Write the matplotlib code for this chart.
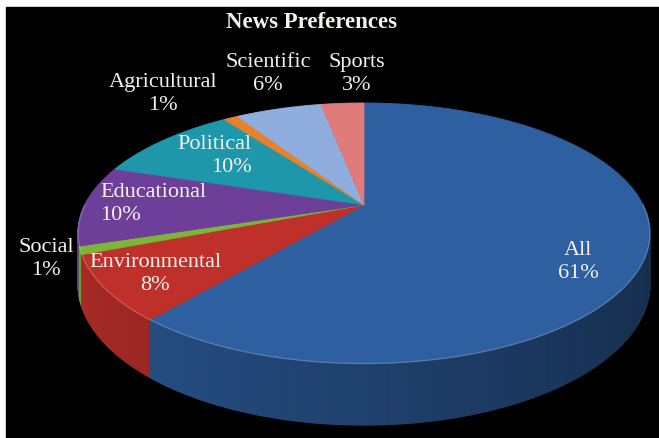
import numpy as np
import matplotlib
matplotlib.use('Agg')
import matplotlib.pyplot as plt
from matplotlib.patches import Polygon, Rectangle
from matplotlib.collections import PolyCollection
from matplotlib.colors import to_rgb

# data
categories = ['All', 'Environmental', 'Social', 'Educational',
              'Political', 'Agricultural', 'Scientific', 'Sports']
percent = [61, 8, 1, 10, 10, 1, 6, 3]
colors = ['#2E5FA0', '#C0302B', '#7DB43A', '#6E3F98',
          '#1F97AB', '#E8822A', '#8FAEDD', '#E07B7B']
title = 'News Preferences'

# label anchor points (pixels) and alignment - placed by hand like the original
label_pos = [(578, 262), (155, 274), (46, 259), (100, 204),
             (252, 156), (163, 94), (268, 74), (357, 74)]
label_ha = ['center', 'center', 'center', 'left',
            'right', 'center', 'center', 'center']

# pie geometry in pixels (perspective-ish 3d look)
cx, cy = 364, 206
a, b = 279, 124
k = 0.218
h = 48


def project(theta, z=0.0):
    x = np.cos(theta)
    d = np.sin(theta)
    s = 1.0 / (1.0 + k * d)
    return cx + a * x * s, cy - b * d * s + z * h * s


def shade(col, f):
    r, g, bb = to_rgb(col)
    return (r * f, g * f, bb * f)


fig = plt.figure(figsize=(6.59, 4.39), dpi=100)
fig.patch.set_facecolor('white')
ax = fig.add_axes([0, 0, 1, 1])
ax.set_xlim(0, 659)
ax.set_ylim(439, 0)
ax.axis('off')
ax.add_patch(Rectangle((6, 8), 660, 440, color='black', zorder=0))

# wedge edges, clockwise from 12 o'clock
frac = np.array(percent, dtype=float) / sum(percent)
edges = np.radians(90 - 360 * np.concatenate([[0], np.cumsum(frac)]))

# side of the cylinder, small quads drawn back to front
quads, qcols, depth = [], [], []
for i in range(len(percent)):
    n = max(4, int(abs(edges[i] - edges[i + 1]) / np.radians(0.5)))
    t = np.linspace(edges[i], edges[i + 1], n)
    for t0, t1 in zip(t[:-1], t[1:]):
        quads.append([project(t0, 0), project(t1, 0), project(t1, 1), project(t0, 1)])
        tm = 0.5 * (t0 + t1)
        qcols.append(shade(colors[i], 0.68 - 0.2 * np.cos(tm)))
        depth.append(np.sin(tm))
order = np.argsort(depth)[::-1]
pc = PolyCollection([quads[j] for j in order], facecolors=[qcols[j] for j in order],
                    edgecolors=[qcols[j] for j in order], linewidths=1.0, zorder=1)
ax.add_collection(pc)

# top faces
for i in range(len(percent)):
    t = np.linspace(edges[i], edges[i + 1], 200)
    xs, ys = project(t, 0)
    pts = np.column_stack([np.r_[cx, xs], np.r_[cy, ys]])
    ax.add_patch(Polygon(pts, closed=True, facecolor=colors[i],
                         edgecolor=colors[i], linewidth=0.5, zorder=2))

# light rim on the front edge
tr = np.linspace(np.radians(180), np.radians(360), 300)
rx, ry = project(tr, 0)
ax.plot(rx, ry, color='white', alpha=0.2, linewidth=1.0, zorder=3)

# labels
tcol = '#F3F3EC'
for name, pct, (lx, ly), ha in zip(categories, percent, label_pos, label_ha):
    ax.text(lx, ly, f'{name}\n{pct}%', ha=ha, va='center', multialignment=ha,
            fontsize=16, family='Liberation Serif', color=tcol,
            linespacing=1.3, zorder=5)

ax.text(312, 23, title, ha='center', va='center', fontsize=16.5,
        family='Liberation Serif', fontweight='bold', color=tcol, zorder=5)

fig.savefig('out.png', dpi=100, facecolor=fig.get_facecolor())
plt.close(fig)
